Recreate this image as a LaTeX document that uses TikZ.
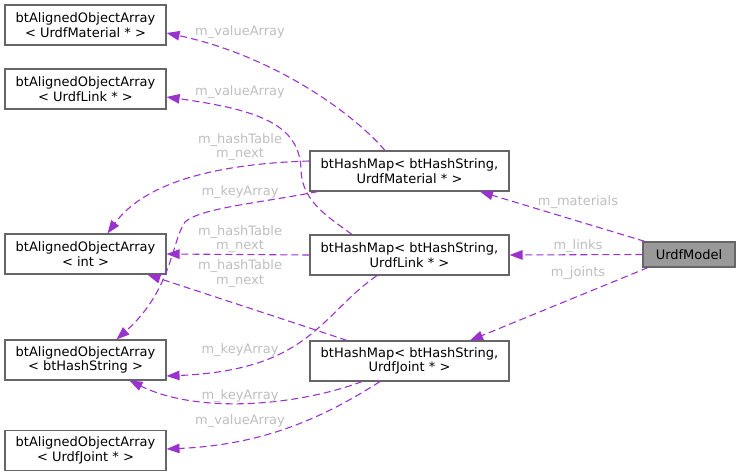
\documentclass[tikz,border=0pt]{standalone}
\usepackage{fontspec}
\setmainfont{DejaVu Sans}
\usetikzlibrary{arrows.meta}
\definecolor{edgec}{HTML}{9A32CD}
\definecolor{labc}{HTML}{BEBEBE}
\definecolor{boxc}{HTML}{666666}
\definecolor{fillc}{HTML}{999999}
\begin{document}
\begin{tikzpicture}[x=1pt,y=-1pt,
  font=\fontsize{13}{14.4}\selectfont,
  cls/.style={draw=boxc,line width=1.1pt,fill=white,align=center,inner sep=0pt,minimum height=40pt},
  arr/.style={minimum width=161pt,cls},
  hm/.style={minimum width=199pt,cls},
  rel/.style={draw=edgec,line width=1.1pt,dash pattern=on 7pt off 4pt,-{Triangle[length=13pt,width=9.5pt,fill=edgec]}},
  lab/.style={text=labc,align=center,inner sep=0pt}]
\useasboundingbox (0,0) rectangle (740,476);
\node[arr] (a1) at (85.5,25) {btAlignedObjectArray\\< UrdfMaterial * >};
\node[arr] (a2) at (85.5,89) {btAlignedObjectArray\\< UrdfLink * >};
\node[arr] (a3) at (85.5,254) {btAlignedObjectArray\\< int >};
\node[arr] (a4) at (85.5,360) {btAlignedObjectArray\\< btHashString >};
\node[arr] (a5) at (85.5,450.5) {btAlignedObjectArray\\< UrdfJoint * >};
\node[hm] (h1) at (409.5,171) {btHashMap< btHashString,\\UrdfMaterial * >};
\node[hm] (h2) at (409.5,255) {btHashMap< btHashString,\\UrdfLink * >};
\node[hm] (h3) at (409.5,361) {btHashMap< btHashString,\\UrdfJoint * >};
\node[cls,fill=fillc,minimum width=92pt,minimum height=25pt] (u) at (689,254.5) {UrdfModel};

% edges
\draw[rel] ([xshift=-24.5pt]h1.north) .. controls (350,110) and (270,55) .. ([yshift=-8pt]a1.east);
\draw[rel] ([xshift=-57.5pt]h2.north) .. controls (325,215) and (302,200) .. (301,170) .. controls (300,125) and (260,110) .. ([yshift=-8pt]a2.east);
\draw[rel] ([yshift=10pt]h1.west) .. controls (240,163) and (150,175) .. ([xshift=22pt]a3.north);
\draw[rel] ([xshift=-91.5pt]h1.south) .. controls (260,203) and (200,208) .. (185,222) .. controls (172,240) and (172,290) .. ([xshift=31pt]a4.north);
\draw[rel] (h2.west) -- (a3.east);
\draw[rel] ([xshift=-32.5pt]h2.south) .. controls (320,315) and (310,370) .. ([yshift=-16pt]a4.east);
\draw[rel] ([xshift=-62.5pt]h3.north) .. controls (280,318) and (200,292) .. ([xshift=62pt]a3.south);
\draw[rel] ([xshift=-47.5pt]h3.south) .. controls (300,405) and (200,415) .. ([xshift=44pt]a4.south);
\draw[rel] ([xshift=-29.5pt]h3.south) .. controls (320,420) and (260,445) .. ([yshift=1.5pt]a5.east);
\draw[rel] ([xshift=-44pt]u.north) -- ([xshift=70.5pt]h1.south);
\draw[rel] (u.west) -- (h2.east);
\draw[rel] ([xshift=-41pt]u.south) -- ([xshift=60.5pt]h3.north);

% labels
\node[lab] (l1) at (240,32) {m\_valueArray};
\node[lab] (l2) at (240,92) {m\_valueArray};
\node[lab] (l3) at (240,147) {m\_hashTable\\m\_next};
\node[lab] (l4) at (240,192) {m\_keyArray};
\node[lab] (l5) at (240,239) {m\_hashTable\\m\_next};
\node[lab] (l6) at (240,273.5) {m\_hashTable\\m\_next};
\node[lab] (l7) at (240,350) {m\_keyArray};
\node[lab] (l8) at (240,396) {m\_keyArray};
\node[lab] (l9) at (240,421) {m\_valueArray};
\node[lab] (l10) at (578,202) {m\_materials};
\node[lab] (l11) at (578,246) {m\_links};
\node[lab] (l12) at (578,273) {m\_joints};
\end{tikzpicture}
\end{document}
